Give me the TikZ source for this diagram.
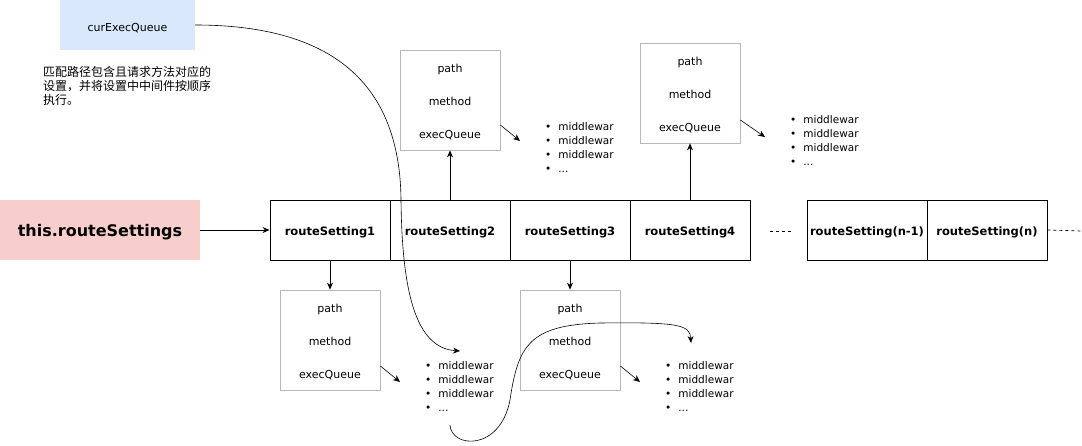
\documentclass[tikz,border=0pt]{standalone}
\usepackage{fontspec}
\setmainfont{DejaVu Sans}
\newfontfamily\cjk{Noto Sans CJK SC}
\usetikzlibrary{arrows.meta}
\definecolor{bluefill}{HTML}{DAE8FC}
\definecolor{pinkfill}{HTML}{F8CECC}
\definecolor{boxgray}{HTML}{B8B8B8}
\tikzset{
  rsbox/.style={draw=black, line width=0.9pt, minimum width=120pt, minimum height=60pt, inner sep=0pt, text height=13pt, text depth=2.5pt, font=\fontsize{11.5}{14}\selectfont\bfseries},
  detbox/.style={draw=boxgray, line width=0.8pt, minimum width=100pt, minimum height=100pt, inner sep=0pt},
  dettext/.style={inner sep=0pt, align=center, font=\fontsize{11}{33}\selectfont},
  listnode/.style={anchor=west, inner sep=0pt, font=\fontsize{10.5}{14}\selectfont},
  arr/.style={-{Stealth[length=7pt,width=6pt]}, line width=0.8pt},
  sarr/.style={-{Stealth[length=7pt,width=6pt]}, line width=0.6pt},
  dline/.style={dashed, dash pattern=on 3pt off 3pt, line width=0.7pt}
}
\newcommand{\mwlist}{\begin{tabular}{@{}l@{\hspace{7pt}}l@{}}\textbullet & middlewar\\ \textbullet & middlewar\\ \textbullet & middlewar\\ \textbullet & ...\end{tabular}}
\begin{document}
\begin{tikzpicture}[x=1pt, y=-1pt]
\useasboundingbox (0,0) rectangle (1082,445);
% top-left
\node[fill=bluefill, minimum width=135pt, minimum height=50pt, inner sep=0pt, text height=15pt, text depth=2.2pt, font=\fontsize{11}{13}\selectfont] (cur) at (127.5,25) {curExecQueue};
\node[anchor=north west, inner sep=0pt, align=left, font=\cjk\fontsize{12}{14}\selectfont] (note) at (43,66) {匹配路径包含且请求方法对应的\\设置，并将设置中中间件按顺序\\执行。};
% main row
\node[fill=pinkfill, minimum width=200pt, minimum height=60pt, inner sep=0pt, text height=17pt, text depth=3.6pt, font=\fontsize{16}{18}\selectfont\bfseries] (rs) at (100,230) {this.routeSettings};
\node[rsbox] (r1) at (330,230) {routeSetting1};
\node[rsbox] (r2) at (450,230) {routeSetting2};
\node[rsbox] (r3) at (570,230) {routeSetting3};
\node[rsbox] (r4) at (690,230) {routeSetting4};
\node[rsbox] (r5) at (867,230) {routeSetting(n-1)};
\node[rsbox] (r6) at (987,230) {routeSetting(n)};
\coordinate (d1a) at (770,231);
\coordinate (d1b) at (793,231);
\coordinate (d2) at (1082,231);
\draw[dline] (d1a) -- (d1b);
\draw[dline] (r6.east) -- (d2);
\draw[arr] (rs.east) -- (r1.west);
% detail boxes
\node[detbox] (dA) at (450,100) {};
\node[detbox] (dB) at (690,93) {};
\node[detbox] (dC) at (330,340) {};
\node[detbox] (dD) at (570,340) {};
\node[dettext] (tA1) at ([yshift=-2pt]dA.center) {path\\method\\execQueue};
\node[dettext] (tB1) at ([yshift=-2pt]dB.center) {path\\method\\execQueue};
\node[dettext] (tC1) at ([yshift=-2pt]dC.center) {path\\method\\execQueue};
\node[dettext] (tD1) at ([yshift=-2pt]dD.center) {path\\method\\execQueue};
\draw[arr] (r2.north) -- (dA.south);
\draw[arr] (r4.north) -- (dB.south);
\draw[arr] (r1.south) -- (dC.north);
\draw[arr] (r3.south) -- (dD.north);
% lists
\node[listnode] (lA) at (545,149) {\mwlist};
\node[listnode] (lB) at (790,142) {\mwlist};
\node[listnode] (lC) at (425,388) {\mwlist};
\node[listnode] (lD) at (665,388) {\mwlist};
\coordinate (tA) at (520,141);
\coordinate (tB) at (765,137);
\coordinate (tC) at (400,382);
\coordinate (tD) at (640,382);
\draw[sarr] ([yshift=-25pt]dA.east) -- (tA);
\draw[sarr] ([yshift=-27pt]dB.east) -- (tB);
\draw[sarr] ([yshift=-26pt]dC.east) -- (tC);
\draw[sarr] ([yshift=-26pt]dD.east) -- (tD);
% curves
\coordinate (c1end) at (460,351);
\draw[sarr] (cur.east) .. controls (340,25) and (400,90) .. (401,200) .. controls (402,290) and (415,348) .. (c1end);
\coordinate (c2start) at (450,425);
\coordinate (c2end) at (691,343);
\draw[sarr] (c2start) .. controls (451,448) and (500,452) .. (510,400) .. controls (518,345) and (530,325) .. (600,323) .. controls (680,322) and (690,325) .. (c2end);
\end{tikzpicture}
\end{document}
